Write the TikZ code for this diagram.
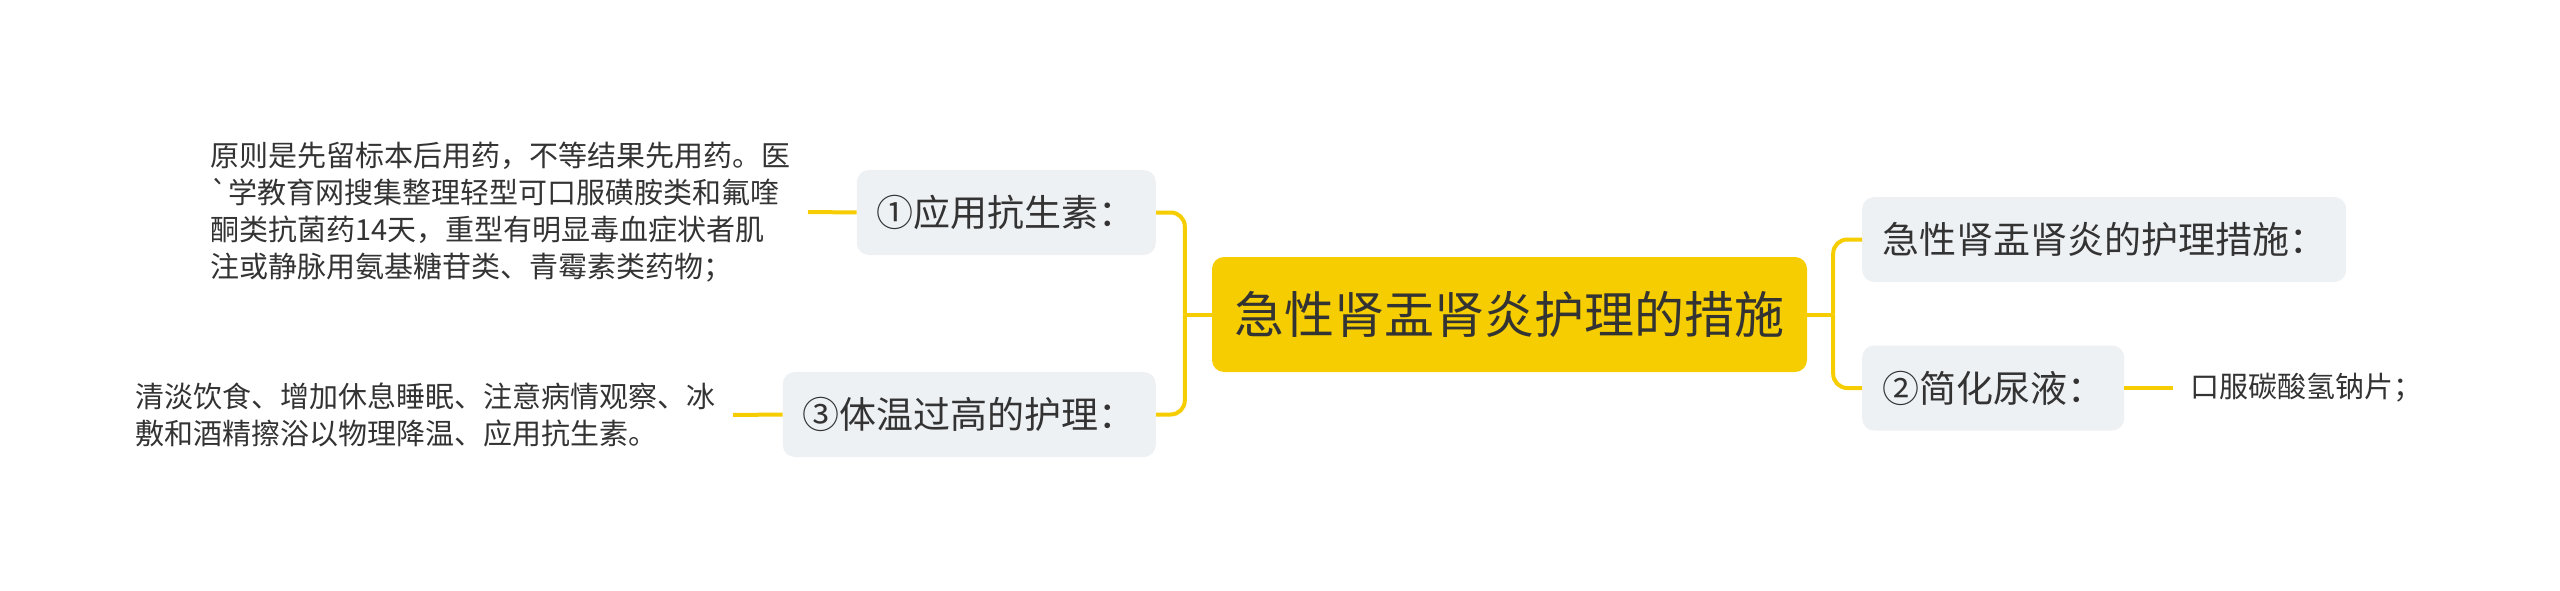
\documentclass[tikz,border=0pt]{standalone}
\usepackage{fontspec}
\setmainfont{Noto Sans CJK SC}[Ligatures=TeXOff]
\usepackage{xcolor}
\definecolor{gold}{HTML}{F5CD00}
\definecolor{pale}{HTML}{EEF1F4}
\definecolor{ink}{HTML}{333333}

\begin{document}
\begin{tikzpicture}[x=1pt,y=-1pt,
  link/.style={line width=4pt,gold,rounded corners=14pt},
  topic/.style={fill=pale,rounded corners=12pt,minimum height=85pt,inner xsep=20pt,
    font=\fontsize{37pt}{44pt}\selectfont,text=ink},
  note/.style={align=left,inner xsep=17pt,inner ysep=0pt,
    font=\fontsize{29pt}{37pt}\selectfont,text=ink}]
\useasboundingbox (0,0) rectangle (2560,591);
% centre
\node[fill=gold,rounded corners=12pt,minimum width=595pt,minimum height=115pt,
  font=\fontsize{50pt}{60pt}\selectfont,text=ink] (root) at (1509.5,314.5) {急性肾盂肾炎护理的措施};
% left branch
\node[topic,anchor=east] (anti) at (1156,212.5) {①应用抗生素：};
\node[topic,anchor=east] (fever) at (1156,414.5) {③体温过高的护理：};
\node[note,anchor=east] (antinote) at (808,212) {原则是先留标本后用药，不等结果先用药。医\\`学教育网搜集整理轻型可口服磺胺类和氟喹\\酮类抗菌药14天，重型有明显毒血症状者肌\\注或静脉用氨基糖苷类、青霉素类药物；};
\node[note,anchor=east] (fevernote) at (733,415) {清淡饮食、增加休息睡眠、注意病情观察、冰\\敷和酒精擦浴以物理降温、应用抗生素。};
% right branch
\node[topic,anchor=west] (care) at (1862,239.5) {急性肾盂肾炎的护理措施：};
\node[topic,anchor=west] (urine) at (1862,388) {②简化尿液：};
\node[note,anchor=west] (urinenote) at (2173,388) {口服碳酸氢钠片；};
% connectors
\coordinate (lj) at ([xshift=-27pt]root.west);
\coordinate (rj) at ([xshift=26pt]root.east);
\draw[link] (root.west) -- (lj);
\draw[link] (anti.east) -| (lj);
\draw[link] (fever.east) -| (lj);
\draw[link] (root.east) -- (rj);
\draw[link] (care.west) -| (rj);
\draw[link] (urine.west) -| (rj);
\draw[link] (anti.west) -- (antinote.east);
\draw[link] (fever.west) -- (fevernote.east);
\draw[link] (urine.east) -- (urinenote.west);
\end{tikzpicture}
\end{document}
